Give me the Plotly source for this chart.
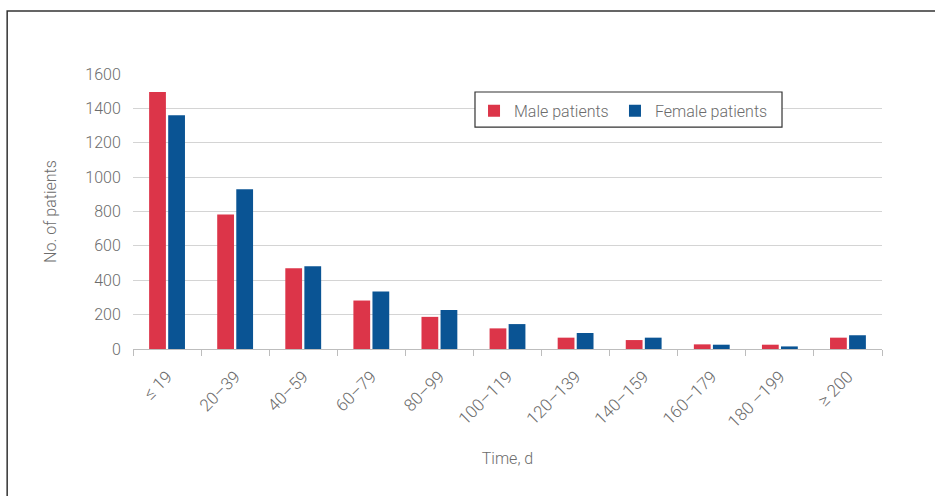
import plotly.graph_objects as go

categories = ["≤ 19", "20–39", "40–59", "60–79", "80–99", "100–119",
              "120–139", "140–159", "160–179", "180 –199", "≥ 200"]
male = [1495, 782, 470, 282, 187, 120, 66, 52, 27, 25, 66]
female = [1360, 930, 482, 335, 227, 145, 93, 66, 25, 15, 80]
y_ticks = [0, 200, 400, 600, 800, 1000, 1200, 1400, 1600]

RED = "#dc3549"
BLUE = "#0a5494"
GRAY_TXT = "#6c6c6c"
FONT = "Roboto"
W = 300

fig = go.Figure()
fig.add_trace(go.Bar(name="Male patients", x=categories, y=male, legend="legend",
                     marker=dict(color=RED, line=dict(width=0))))
fig.add_trace(go.Bar(name="Female patients", x=categories, y=female, legend="legend2",
                     marker=dict(color=BLUE, line=dict(width=0))))

leg_common = dict(orientation="h", y=0.928, xanchor="left", yanchor="top",
                  bgcolor="rgba(0,0,0,0)", borderwidth=0, itemwidth=30,
                  font=dict(size=16, color=GRAY_TXT, weight=W))

fig.update_layout(
    width=935, height=496,
    margin=dict(l=133, r=53, t=74, b=147),
    paper_bgcolor="white", plot_bgcolor="white",
    barmode="group", bargap=0.44, bargroupgap=0.12,
    font=dict(family=FONT, color=GRAY_TXT, size=16, weight=W),
    showlegend=True,
    legend=dict(x=0.4553, **leg_common),
    legend2=dict(x=0.6435, **leg_common),
    xaxis=dict(
        type="category", tickson="boundaries", ticks="outside", ticklen=6,
        tickcolor="#bdbdbd", showline=True, linecolor="#bdbdbd", linewidth=1.2,
        tickangle=-45, tickfont=dict(size=17, color=GRAY_TXT, weight=W),
        ticklabelstandoff=10,
        title=dict(text="Time, d", font=dict(size=16, color=GRAY_TXT, weight=W), standoff=22),
        showgrid=False, zeroline=False,
    ),
    yaxis=dict(
        range=[0, 1600], tickvals=y_ticks, showgrid=True, gridcolor="#d4d4d4",
        gridwidth=1, zeroline=False, showline=False, ticks="outside", ticklen=8,
        tickcolor="rgba(0,0,0,0)", tickfont=dict(size=16, color=GRAY_TXT, weight=W),
        title=dict(text="No. of patients", font=dict(size=16, color=GRAY_TXT, weight=W), standoff=24),
    ),
    shapes=[
        dict(type="rect", xref="paper", yref="paper",
             x0=-0.168, x1=1.3, y0=-1.0, y1=1.229,
             line=dict(color="#333333", width=1.5), fillcolor="rgba(0,0,0,0)"),
        dict(type="rect", xref="paper", yref="paper", layer="above",
             x0=0.4566, x1=0.8665, y0=0.807, y1=0.9345,
             line=dict(color="#333333", width=1.2), fillcolor="white"),
    ],
)

fig.write_html("out.html", config={"displayModeBar": False},
               post_script="document.body.style.margin='0';")
